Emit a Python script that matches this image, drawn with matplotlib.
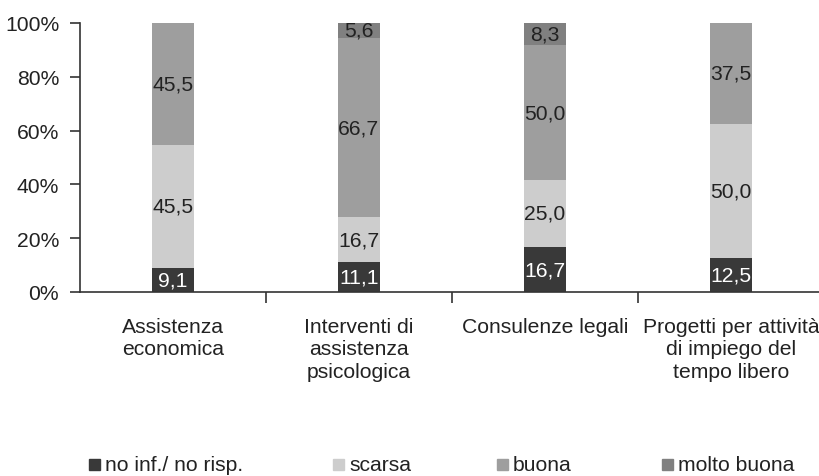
import matplotlib
matplotlib.use("Agg")
import matplotlib.pyplot as plt
from matplotlib.patches import Rectangle
import numpy as np

plt.rcParams['font.family'] = ['Liberation Sans', 'DejaVu Sans']

categories = ["Assistenza\neconomica", "Interventi di\nassistenza\npsicologica",
              "Consulenze legali", "Progetti per attività\ndi impiego del\ntempo libero"]
series_names = ["no inf./ no risp.", "scarsa", "buona", "molto buona"]
no_inf = [9.1, 11.1, 16.7, 12.5]
scarsa = [45.5, 16.7, 25.0, 50.0]
buona = [45.5, 66.7, 50.0, 37.5]
molto_buona = [0.0, 5.6, 8.3, 0.0]
yticks = [0, 20, 40, 60, 80, 100]
ytick_labels = ["0%", "20%", "40%", "60%", "80%", "100%"]

colors = ["#393939", "#cdcdcd", "#9e9e9e", "#808080"]
label_colors = ["white", "#222222", "#222222", "#222222"]

W, H = 820, 477
fig = plt.figure(figsize=(W / 100, H / 100), dpi=100)
ax = fig.add_axes([80 / W, (H - 293) / H, 744 / W, (293 - 24) / H])

x = np.arange(len(categories))
bottom = np.zeros(len(categories))
FS = 15.2
for vals, col, lc in zip([no_inf, scarsa, buona, molto_buona], colors, label_colors):
    vals = np.array(vals)
    ax.bar(x, vals, width=0.23, bottom=bottom, color=col, edgecolor='none', zorder=2)
    for xi, b, v in zip(x, bottom, vals):
        if v > 0:
            ax.text(xi, b + v / 2, f"{v:.1f}".replace('.', ','), ha='center', va='center',
                    fontsize=FS, color=lc, zorder=3)
    bottom += vals

ax.set_xlim(-0.5, 3.5)
ax.set_ylim(0, 100)
ax.set_yticks(yticks)
ax.set_yticklabels(ytick_labels, fontsize=FS, color="#222222")
ax.tick_params(axis='y', direction='out', length=7, width=1.2, pad=8, color="#333333")

ax.set_xticks(x)
ax.set_xticklabels(categories, fontsize=FS, color="#222222", linespacing=1.22, va='top')
ax.tick_params(axis='x', which='major', length=0, pad=18)
ax.set_xticks([0.5, 1.5, 2.5], minor=True)
ax.tick_params(axis='x', which='minor', direction='out', length=8, width=1.2, color="#333333")

for s in ['top', 'right']:
    ax.spines[s].set_visible(False)
for s in ['left', 'bottom']:
    ax.spines[s].set_color("#333333")
    ax.spines[s].set_linewidth(1.2)

# legend drawn manually to match spacing
leg_x = [89, 333, 497, 662]
for lx, col, name in zip(leg_x, colors, series_names):
    fig.patches.append(Rectangle((lx / W, (H - 471) / H), 11 / W, 11 / H,
                                 transform=fig.transFigure, color=col, figure=fig))
    fig.text((lx + 16) / W, (H - 471) / H, name, fontsize=FS, color="#222222",
             ha='left', va='baseline')

fig.savefig("out.png", dpi=100, facecolor='white')
